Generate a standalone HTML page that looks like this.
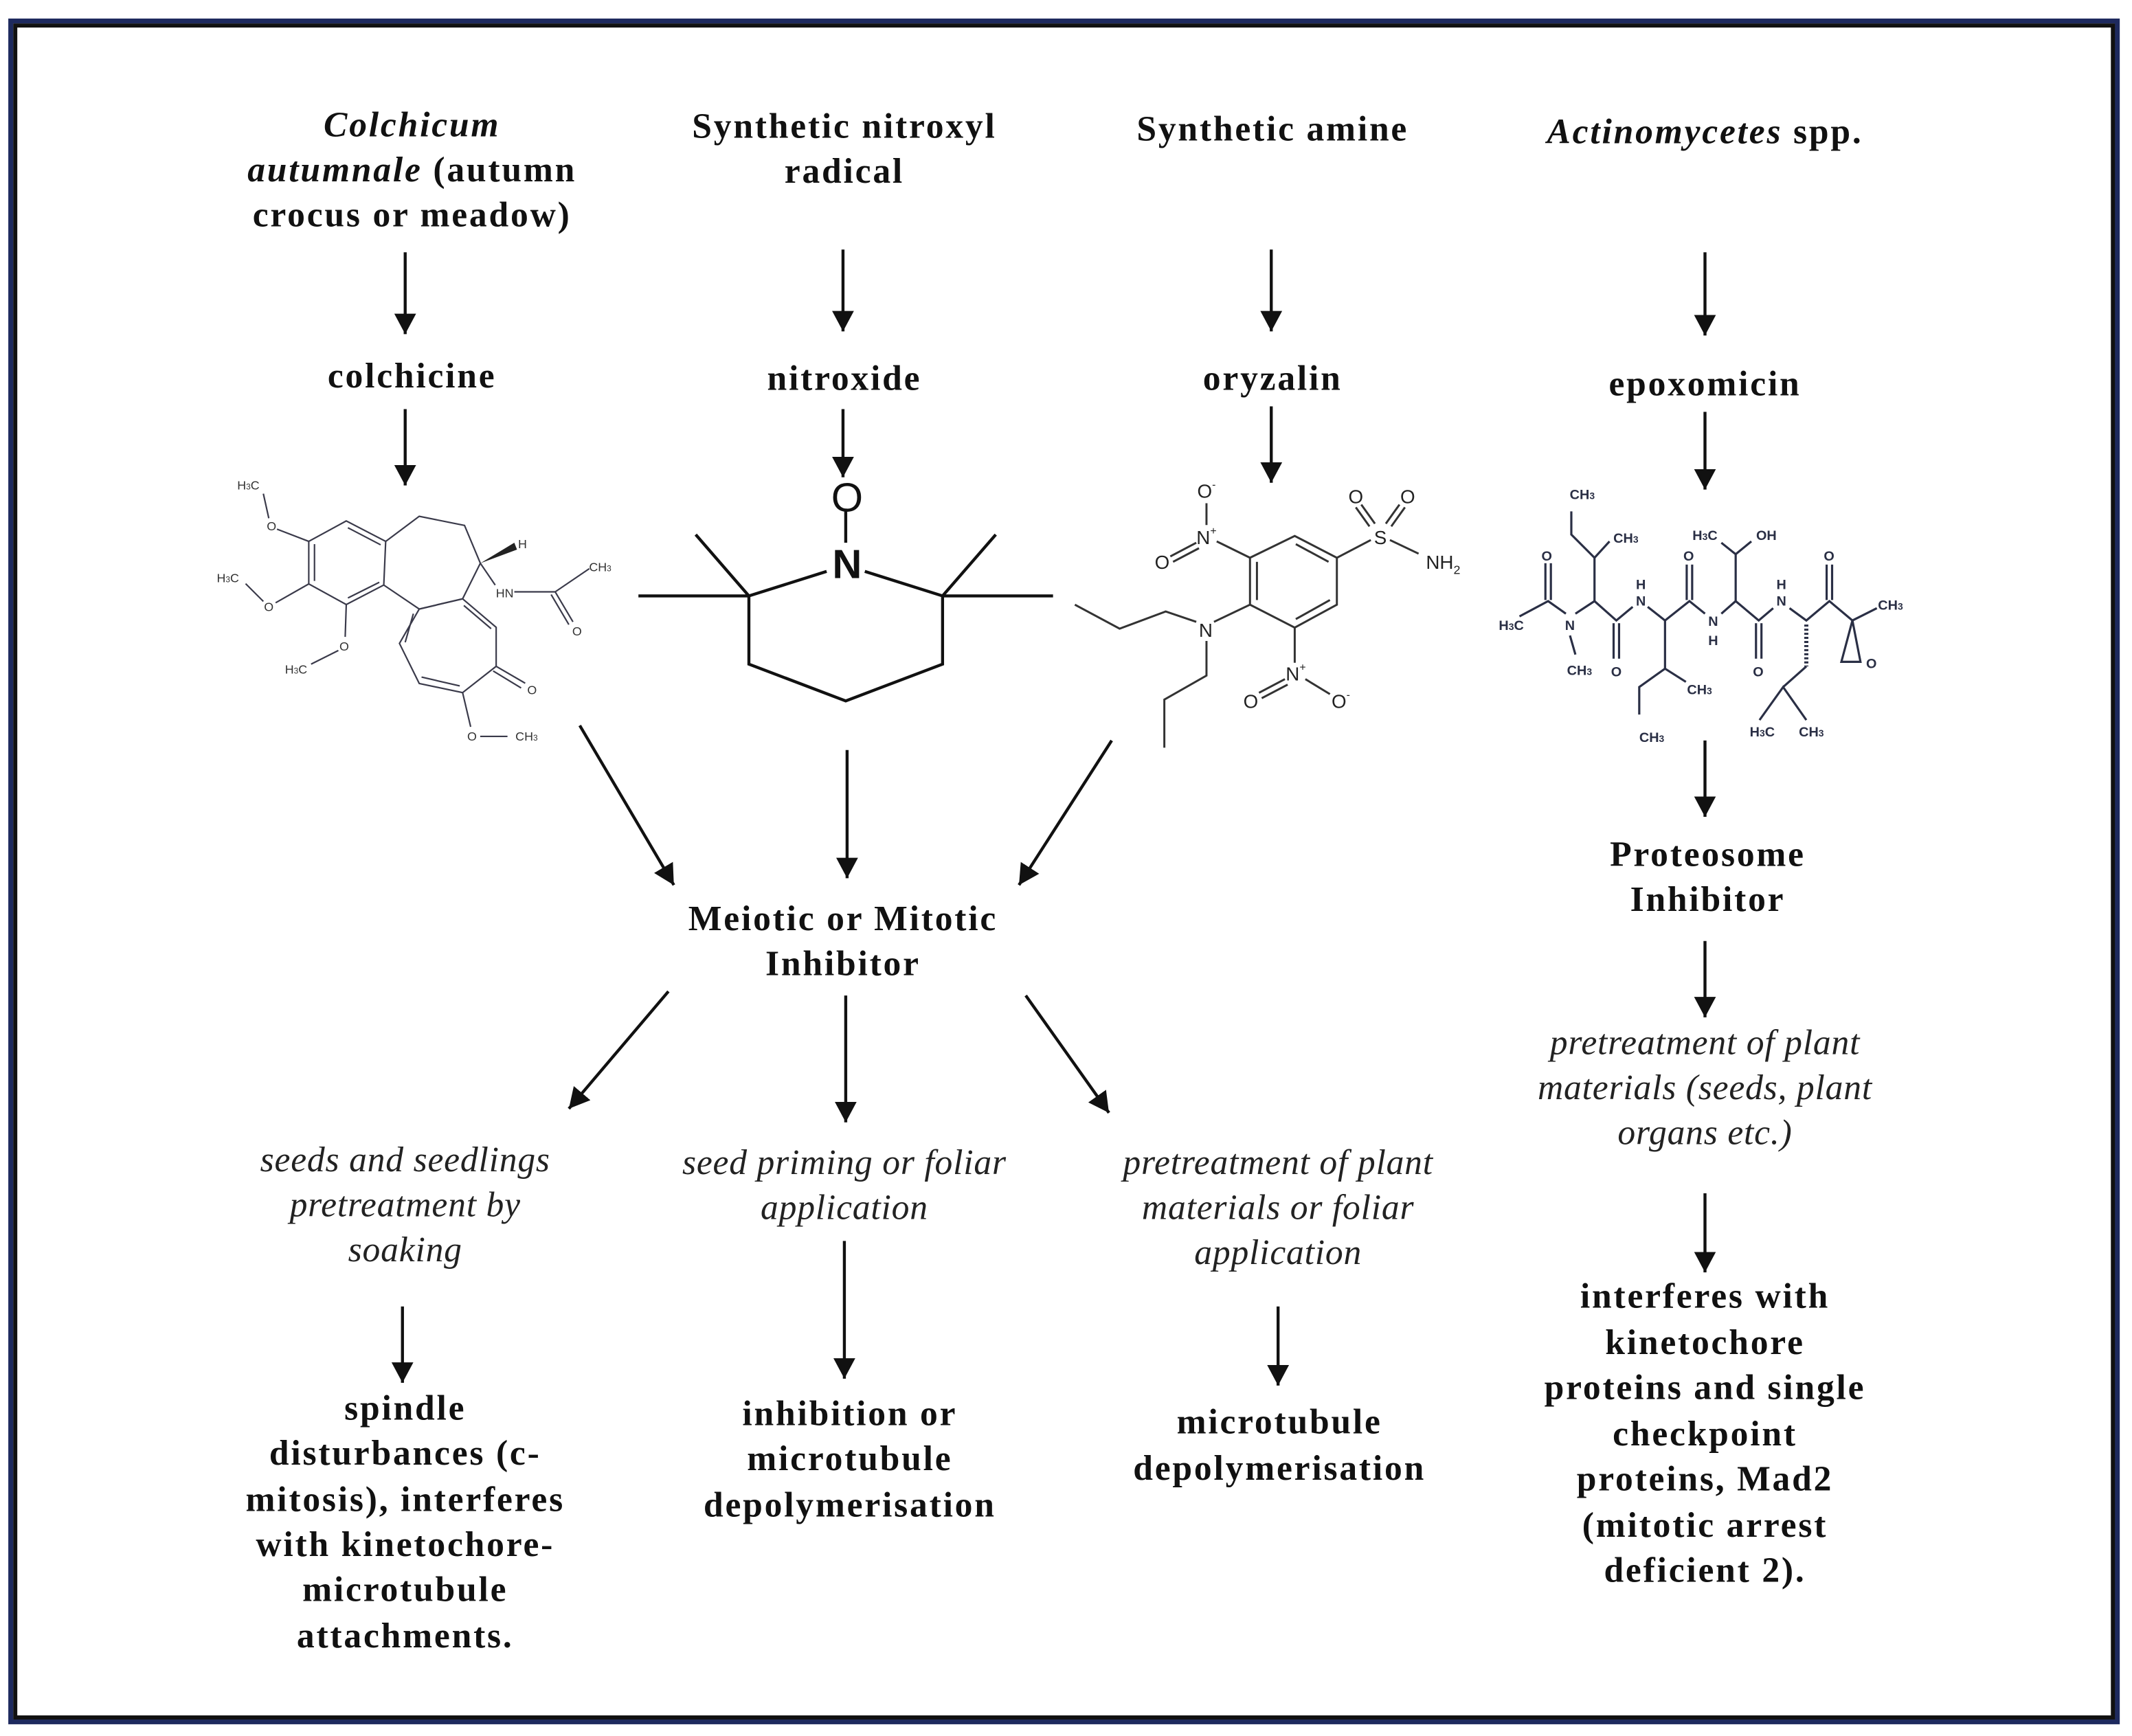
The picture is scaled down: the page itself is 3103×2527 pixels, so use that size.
<!DOCTYPE html>
<html><head><meta charset="utf-8"><style>
html,body{margin:0;padding:0;background:#fff;}
svg{display:block;}
.b{font-family:"Liberation Serif",serif;font-weight:bold;font-size:26px;fill:#111;text-anchor:middle;letter-spacing:1.4px;}
.i{font-family:"Liberation Serif",serif;font-style:italic;font-size:26px;fill:#222;text-anchor:middle;letter-spacing:0.4px;}
.m{font-family:"Liberation Sans",sans-serif;font-size:9px;fill:#333;text-anchor:middle;}
.m2{font-family:"Liberation Sans",sans-serif;font-size:14px;fill:#222;text-anchor:middle;}
.a{stroke:#111;stroke-width:2.2;fill:none;marker-end:url(#ah);}
.c{stroke:#3a3a4a;stroke-width:1.1;fill:none;}
.o{stroke:#333;stroke-width:1.5;fill:none;}
.n{stroke:#111;stroke-width:2.2;fill:none;}
</style></head><body>
<svg width="3103" height="2527" viewBox="0 0 1563 1273" xmlns="http://www.w3.org/2000/svg">
<defs><marker id="ah" viewBox="0 0 15 16" refX="15" refY="8" markerWidth="15" markerHeight="16" markerUnits="userSpaceOnUse" orient="auto"><path d="M0,0 L15,8 L0,16 z" fill="#111"/></marker></defs>
<rect x="7.8" y="15.4" width="1544.5" height="1247.2" fill="#fff" stroke="#1e2a5e" stroke-width="3.6"/>
<rect x="11.1" y="18.7" width="1538" height="1240.7" fill="none" stroke="#111" stroke-width="3"/>

<!-- top labels -->
<text class="b" x="302" y="100"><tspan font-style="italic">Colchicum</tspan></text>
<text class="b" x="302" y="133"><tspan font-style="italic">autumnale</tspan> (autumn</text>
<text class="b" x="302" y="166">crocus or meadow)</text>
<text class="b" x="619" y="101">Synthetic nitroxyl</text>
<text class="b" x="619" y="134">radical</text>
<text class="b" x="933" y="103">Synthetic amine</text>
<text class="b" x="1250" y="105"><tspan font-style="italic">Actinomycetes</tspan> spp.</text>

<line class="a" x1="297" y1="185" x2="297" y2="245"/>
<line class="a" x1="618" y1="183" x2="618" y2="243"/>
<line class="a" x1="932" y1="183" x2="932" y2="243"/>
<line class="a" x1="1250" y1="185" x2="1250" y2="246"/>

<text class="b" x="302" y="284">colchicine</text>
<text class="b" x="619" y="286">nitroxide</text>
<text class="b" x="933" y="286">oryzalin</text>
<text class="b" x="1250" y="290">epoxomicin</text>

<line class="a" x1="297" y1="300" x2="297" y2="356"/>
<line class="a" x1="618" y1="300" x2="618" y2="350"/>
<line class="a" x1="932" y1="298" x2="932" y2="354"/>
<line class="a" x1="1250" y1="302" x2="1250" y2="359"/>

<!-- colchicine -->
<g class="c">
<polygon points="253.8,382 282.7,397 281.3,429 253.8,443.3 226.3,428.2 226.3,397"/>
<line x1="255" y1="387" x2="279" y2="399.5"/><line x1="230.5" y1="399" x2="230.5" y2="426"/><line x1="255" y1="438.5" x2="278" y2="427"/>
<polyline points="282.7,397 307.3,378.6 340.5,385.3 352.1,413 339.1,439.1 307.3,446.6 281.3,429"/>
<polyline points="307.3,446.6 339.1,439.1 363.7,460 363.7,488.6 339.1,507.9 307.3,501.2 292.8,471.8 307.3,446.6"/>
<line x1="340" y1="444" x2="360" y2="461"/><line x1="303" y1="450" x2="297" y2="471"/><line x1="309" y1="496.5" x2="337" y2="503"/>
<line x1="226.3" y1="397" x2="203" y2="388"/><line x1="197" y1="380" x2="193" y2="362"/>
<line x1="226.3" y1="428.2" x2="202" y2="442"/><line x1="193" y1="441" x2="180" y2="428"/>
<line x1="253.8" y1="443.3" x2="253" y2="467"/><line x1="248" y1="477" x2="228" y2="487"/>
<line x1="363.7" y1="488.6" x2="385" y2="501"/><line x1="361.5" y1="492" x2="382" y2="504.5"/>
<line x1="339.1" y1="507.9" x2="345" y2="533"/><line x1="352" y1="540" x2="372" y2="540"/>
<line x1="352.1" y1="413" x2="363" y2="429"/><line x1="377" y1="434" x2="407" y2="434"/>
<line x1="407" y1="434" x2="432" y2="417"/><line x1="407" y1="434" x2="420" y2="456"/><line x1="404" y1="436" x2="417" y2="458"/>
</g>
<polygon points="352.1,413 377,398 379,403" fill="#222"/>
<text class="m" x="182" y="359">H<tspan font-size="6">3</tspan>C</text>
<text class="m" x="199" y="389">O</text>
<text class="m" x="167" y="427">H<tspan font-size="6">3</tspan>C</text>
<text class="m" x="197" y="448">O</text>
<text class="m" x="252.3" y="477">O</text>
<text class="m" x="217" y="494">H<tspan font-size="6">3</tspan>C</text>
<text class="m" x="390" y="509">O</text>
<text class="m" x="346" y="543">O</text>
<text class="m" x="386" y="543">CH<tspan font-size="6">3</tspan></text>
<text class="m" x="383" y="402">H</text>
<text class="m" x="370" y="438">HN</text>
<text class="m" x="440" y="419">CH<tspan font-size="6">3</tspan></text>
<text class="m" x="423" y="466">O</text>

<!-- nitroxide -->
<g class="n">
<line x1="620" y1="373" x2="620" y2="398"/>
<polyline points="606,419 549,437 549,487 620,514 691,487 691,437 634,419"/>
<line x1="549" y1="437" x2="510" y2="392"/><line x1="549" y1="437" x2="468" y2="437"/>
<line x1="691" y1="437" x2="730" y2="392"/><line x1="691" y1="437" x2="772" y2="437"/>
</g>
<text x="621" y="375" style="font-family:'Liberation Sans',sans-serif;font-size:30px;text-anchor:middle;fill:#111">O</text>
<text x="621" y="424" style="font-family:'Liberation Sans',sans-serif;font-weight:bold;font-size:30px;text-anchor:middle;fill:#111">N</text>

<!-- oryzalin -->
<g class="o">
<polygon points="916.4,409 949.2,393 980.1,409 980.1,443.4 949.2,460.2 916.4,443.4"/>
<line x1="950" y1="399" x2="974" y2="412"/><line x1="921.5" y1="412" x2="921.5" y2="440"/><line x1="950" y1="454" x2="975" y2="440"/>
<line x1="916.4" y1="409" x2="892" y2="397"/>
<line x1="884.5" y1="385" x2="884.5" y2="369"/>
<line x1="877" y1="398" x2="858" y2="408"/><line x1="879" y1="402" x2="860" y2="412"/>
<line x1="980.1" y1="409" x2="1005" y2="396"/>
<line x1="1008" y1="384" x2="998" y2="370"/><line x1="1004" y1="386" x2="994" y2="372"/>
<line x1="1016" y1="384" x2="1026" y2="370"/><line x1="1020" y1="386" x2="1030" y2="372"/>
<line x1="1019" y1="396" x2="1040" y2="406"/>
<line x1="916.4" y1="443.4" x2="890" y2="456"/>
<polyline points="877,456 854.6,448.4 820.8,461 788,443.4"/>
<polyline points="884.5,470 884.5,495.4 853.6,513 853.6,548.3"/>
<line x1="949.2" y1="460.2" x2="949.2" y2="486"/>
<line x1="942" y1="498" x2="923" y2="508"/><line x1="944" y1="502" x2="925" y2="512"/>
<line x1="957" y1="498" x2="975" y2="509"/>
</g>
<text class="m2" x="884.5" y="399">N<tspan font-size="8" dy="-7">+</tspan></text>
<text class="m2" x="884.5" y="365">O<tspan font-size="8" dy="-7">-</tspan></text>
<text class="m2" x="852" y="417">O</text>
<text class="m2" x="1012" y="399">S</text>
<text class="m2" x="994" y="369">O</text>
<text class="m2" x="1032" y="369">O</text>
<text class="m2" x="1058" y="417">NH<tspan font-size="9" dy="4">2</tspan></text>
<text class="m2" x="884" y="467">N</text>
<text class="m2" x="950" y="499">N<tspan font-size="8" dy="-7">+</tspan></text>
<text class="m2" x="917" y="519">O</text>
<text class="m2" x="983" y="519">O<tspan font-size="8" dy="-7">-</tspan></text>

<!-- epoxomicin -->
<g class="c" style="stroke-width:1.6;stroke:#2a2f45">
<polyline points="1114,452 1135,440.8 1148,450"/>
<line x1="1133" y1="413" x2="1133" y2="440"/><line x1="1137" y1="413" x2="1137" y2="440"/>
<line x1="1151" y1="466" x2="1155" y2="480"/>
<polyline points="1155,450 1169,440.8 1185,455 1197,445"/>
<polyline points="1169,440.8 1169,409 1152,392 1152,375"/>
<line x1="1169" y1="409" x2="1180" y2="397"/>
<line x1="1183" y1="457" x2="1183" y2="483"/><line x1="1187" y1="457" x2="1187" y2="483"/>
<polyline points="1208,445 1220.7,455 1238.6,440.8 1250,450"/>
<polyline points="1220.7,455 1220.7,490.3 1201.8,503.8 1201.8,524"/>
<line x1="1220.7" y1="490.3" x2="1236" y2="500"/>
<line x1="1236.6" y1="414" x2="1236.6" y2="440"/><line x1="1240.6" y1="414" x2="1240.6" y2="440"/>
<polyline points="1262,450 1272.5,440.8 1289.4,455 1300,446"/>
<polyline points="1262,398 1272.5,406.4 1272.5,440.8"/>
<line x1="1272.5" y1="406.4" x2="1284" y2="397"/>
<line x1="1287.4" y1="457" x2="1287.4" y2="483"/><line x1="1291.4" y1="457" x2="1291.4" y2="483"/>
<polyline points="1312,446 1324.3,455 1341.2,440.8 1358.1,455 1376,446"/>
<line x1="1339.2" y1="414" x2="1339.2" y2="440"/><line x1="1343.2" y1="414" x2="1343.2" y2="440"/>
<line x1="1324.3" y1="458" x2="1324.3" y2="488.7" stroke-dasharray="1.5,1.5" stroke-width="3"/>
<polyline points="1290,528 1307.3,503.8 1324.3,528"/>
<line x1="1324.3" y1="488.7" x2="1307.3" y2="503.8"/>
<polyline points="1358.1,455 1350,485.3 1364,485.3 1358.1,455"/>
</g>
<g class="m" style="font-size:10px;font-weight:bold;fill:#2a2f45">
<text x="1108" y="462">H<tspan font-size="7">3</tspan>C</text>
<text x="1134" y="411">O</text>
<text x="1151" y="462">N</text>
<text x="1158" y="495">CH<tspan font-size="7">3</tspan></text>
<text x="1160" y="366">CH<tspan font-size="7">3</tspan></text>
<text x="1192" y="398">CH<tspan font-size="7">3</tspan></text>
<text x="1185" y="496">O</text>
<text x="1203" y="444">N</text><text x="1203" y="432">H</text>
<text x="1211" y="544">CH<tspan font-size="7">3</tspan></text>
<text x="1246" y="509">CH<tspan font-size="7">3</tspan></text>
<text x="1238" y="411">O</text>
<text x="1256" y="459">N</text><text x="1256" y="473">H</text>
<text x="1250" y="396">H<tspan font-size="7">3</tspan>C</text>
<text x="1295" y="396">OH</text>
<text x="1289" y="496">O</text>
<text x="1306" y="444">N</text><text x="1306" y="432">H</text>
<text x="1292" y="540">H<tspan font-size="7">3</tspan>C</text>
<text x="1328" y="540">CH<tspan font-size="7">3</tspan></text>
<text x="1341" y="411">O</text>
<text x="1386" y="447">CH<tspan font-size="7">3</tspan></text>
<text x="1372" y="490">O</text>
</g>

<!-- converging arrows -->
<line class="a" x1="425" y1="532" x2="494" y2="649"/>
<line class="a" x1="621" y1="550" x2="621" y2="644"/>
<line class="a" x1="815" y1="543" x2="747" y2="649"/>
<text class="b" x="618" y="682">Meiotic or Mitotic</text>
<text class="b" x="618" y="715">Inhibitor</text>

<line class="a" x1="490" y1="727" x2="417" y2="813"/>
<line class="a" x1="620" y1="730" x2="620" y2="823"/>
<line class="a" x1="752" y1="730" x2="813" y2="816"/>

<text class="i" x="297" y="859">seeds and seedlings</text>
<text class="i" x="297" y="892">pretreatment by</text>
<text class="i" x="297" y="925">soaking</text>
<text class="i" x="619" y="861">seed priming or foliar</text>
<text class="i" x="619" y="894">application</text>
<text class="i" x="937" y="861">pretreatment of plant</text>
<text class="i" x="937" y="894">materials or foliar</text>
<text class="i" x="937" y="927">application</text>

<line class="a" x1="295" y1="958" x2="295" y2="1014"/>
<line class="a" x1="619" y1="910" x2="619" y2="1011"/>
<line class="a" x1="937" y1="958" x2="937" y2="1016"/>

<text class="b" x="297" y="1041">spindle</text>
<text class="b" x="297" y="1074">disturbances (c-</text>
<text class="b" x="297" y="1108">mitosis), interferes</text>
<text class="b" x="297" y="1141">with kinetochore-</text>
<text class="b" x="297" y="1174">microtubule</text>
<text class="b" x="297" y="1208">attachments.</text>
<text class="b" x="623" y="1045">inhibition or</text>
<text class="b" x="623" y="1078">microtubule</text>
<text class="b" x="623" y="1112">depolymerisation</text>
<text class="b" x="938" y="1051">microtubule</text>
<text class="b" x="938" y="1085">depolymerisation</text>

<!-- column 4 -->
<line class="a" x1="1250" y1="543" x2="1250" y2="599"/>
<text class="b" x="1252" y="635">Proteosome</text>
<text class="b" x="1252" y="668">Inhibitor</text>
<line class="a" x1="1250" y1="690" x2="1250" y2="746"/>
<text class="i" x="1250" y="773">pretreatment of plant</text>
<text class="i" x="1250" y="806">materials (seeds, plant</text>
<text class="i" x="1250" y="839">organs etc.)</text>
<line class="a" x1="1250" y1="875" x2="1250" y2="933"/>
<text class="b" x="1250" y="959">interferes with</text>
<text class="b" x="1250" y="993">kinetochore</text>
<text class="b" x="1250" y="1026">proteins and single</text>
<text class="b" x="1250" y="1060">checkpoint</text>
<text class="b" x="1250" y="1093">proteins, Mad2</text>
<text class="b" x="1250" y="1127">(mitotic arrest</text>
<text class="b" x="1250" y="1160">deficient 2).</text>
</svg>
</body></html>
